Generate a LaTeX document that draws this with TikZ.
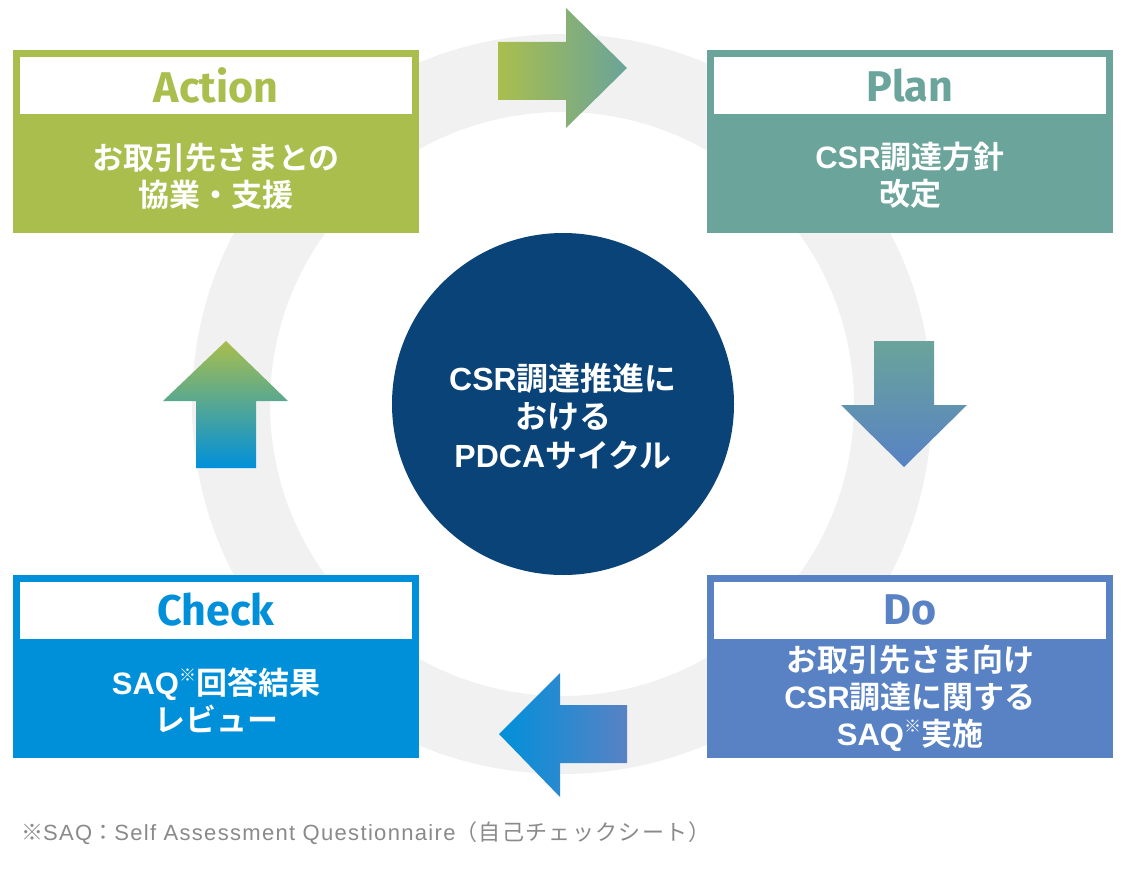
\documentclass[tikz,border=0pt]{standalone}
\usepackage{fontspec}
\setmainfont{Noto Sans CJK JP}
\newfontfamily\jpb{Noto Sans CJK JP}[BoldFont={* Bold}]
\newfontfamily\ttl{Fira Sans}
\newfontfamily\latf{Liberation Sans}
\newfontfamily\notej{Noto Sans CJK JP}[LetterSpace=6]
\newfontfamily\notel{Liberation Sans}[LetterSpace=6]
\newcommand{\lat}[1]{{\latf\bfseries #1}}
\newcommand{\kome}{\raisebox{0.42em}{\fontsize{17}{17}\selectfont ※}}
\definecolor{cgreen}{HTML}{A9BE4D}
\definecolor{cteal}{HTML}{6AA49A}
\definecolor{cdo}{HTML}{5882C4}
\definecolor{ccheck}{HTML}{0090DA}
\definecolor{cnavy}{HTML}{0A4378}
\definecolor{cring}{HTML}{F1F1F1}
\definecolor{cnote}{HTML}{8A8A8A}
\tikzset{
  outerbox/.style={rectangle, inner sep=0pt, minimum width=406pt, minimum height=183pt, draw=none},
  strip/.style={rectangle, fill=white, inner sep=0pt, minimum width=392pt, minimum height=57pt},
  ttltext/.style={font=\ttl\bfseries\fontsize{43}{43}\selectfont, inner sep=0pt},
  bodytext/.style={font=\jpb\bfseries\fontsize{31}{37}\selectfont, text=white, align=center, inner sep=0pt},
}
\begin{document}
\begin{tikzpicture}[x=1pt,y=-1pt]
\useasboundingbox (0,0) rectangle (1128,875);
\fill[white] (0,0) rectangle (1128,875);
% ring
\fill[cring, even odd rule] (562,404) circle[radius=370pt] (562,404) circle[radius=292pt];
% center circle
\node[circle, fill=cnavy, minimum size=342pt, inner sep=0pt] (center) at (563,404) {};
\node[bodytext, font=\jpb\bfseries\fontsize{32}{38.5}\selectfont] (ctext) at (563,416) {\lat{CSR}調達推進に\\おける\\\lat{PDCA}サイクル};
% boxes
\node[outerbox, fill=cgreen] (act) at (215.5,141.5) {};
\node[strip] (actS) at (216,85.5) {};
\node[ttltext, text=cgreen] at (actS) {Action};
\node[bodytext] (actB) at (216,176) {お取引先さまとの\\協業・支援};

\node[outerbox, fill=cteal] (plan) at (910,141.5) {};
\node[strip] (planS) at (910,85.5) {};
\node[ttltext, text=cteal] at (planS) {Plan};
\node[bodytext] (planB) at (910,175) {\lat{CSR}調達方針\\改定};

\node[outerbox, fill=ccheck] (chk) at (215.5,666.5) {};
\node[strip] (chkS) at (216,610) {};
\node[ttltext, text=ccheck] at (chkS) {Check};
\node[bodytext] (chkB) at (216,700) {\lat{SAQ}\kome 回答結果\\レビュー};

\node[outerbox, fill=cdo] (do) at (910,666.5) {};
\node[strip] (doS) at (910,610) {};
\node[ttltext, text=cdo] at (doS) {Do};
\node[bodytext] (doB) at (910,698) {お取引先さま向け\\\lat{CSR}調達に関する\\\lat{SAQ}\kome 実施};

% arrows
\shade[left color=cgreen, right color=cteal] (498,42) -- (566,42) -- (566,8) -- (627,68) -- (566,128) -- (566,100) -- (498,100) -- cycle;
\shade[top color=cteal, bottom color=cdo] (874,341) -- (934,341) -- (934,405) -- (967,405) -- (904,467) -- (841,405) -- (874,405) -- cycle;
\shade[right color=cdo, left color=ccheck] (627,705) -- (560,705) -- (560,673) -- (499,734) -- (560,797) -- (560,763) -- (627,763) -- cycle;
\shade[bottom color=ccheck, top color=cgreen] (196,468) -- (196,401) -- (163,401) -- (226,341) -- (288,401) -- (256,401) -- (256,468) -- cycle;

% footnote
\node[anchor=west, inner sep=0pt, text=cnote, font=\notej\fontsize{22}{22}\selectfont] (note) at (21,833) {※{\notel SAQ}：{\notel Self Assessment Questionnaire}（自己チェックシート）};
\end{tikzpicture}
\end{document}
